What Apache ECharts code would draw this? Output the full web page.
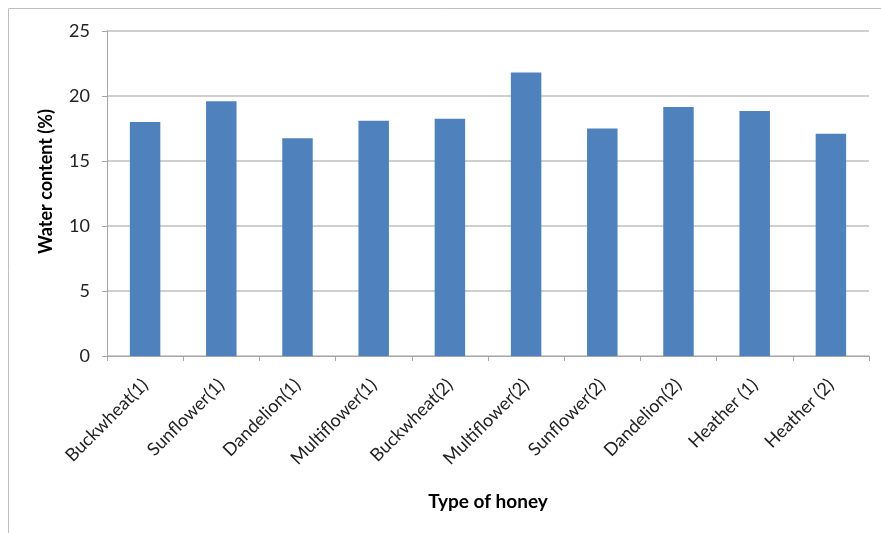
<!DOCTYPE html>
<html>
<head>
<meta charset="utf-8">
<script src="https://cdn.jsdelivr.net/npm/echarts@6/dist/echarts.min.js"></script>
<style>
  html, body { margin: 0; padding: 0; background: #fff; }
  #chart { width: 881px; height: 533px; }
</style>
</head>
<body>
<div id="chart"></div>
<script>
// Honey samples and their measured water content
const categories = [
  'Buckwheat(1)', 'Sunflower(1)', 'Dandelion(1)', 'Multiflower(1)', 'Buckwheat(2)',
  'Multiflower(2)', 'Sunflower(2)', 'Dandelion(2)', 'Heather (1)', 'Heather (2)'
];
const waterContent = [18.0, 19.6, 16.75, 18.1, 18.25, 21.8, 17.5, 19.15, 18.85, 17.1];
const yTicks = { min: 0, max: 25, interval: 5 };

const FONT = 'Lato, "Open Sans", sans-serif';
const chart = echarts.init(document.getElementById('chart'), null, { renderer: 'canvas' });

chart.setOption({
  animation: false,
  backgroundColor: '#ffffff',
  graphic: [{
    type: 'rect',
    shape: { x: 8.5, y: 8.5, width: 880, height: 530 },
    style: { fill: 'none', stroke: '#bfbfbf', lineWidth: 1 }
  }],
  grid: { left: 107, right: 12, top: 31, bottom: 177 },
  xAxis: {
    type: 'category',
    data: categories,
    name: 'Type of honey',
    nameLocation: 'middle',
    nameGap: 136,
    nameTextStyle: { fontFamily: FONT, fontSize: 19, fontWeight: 'bold', color: '#000' },
    axisLine: { lineStyle: { color: '#a6a6a6' } },
    axisTick: { show: true, length: 5, lineStyle: { color: '#a6a6a6' } },
    axisLabel: { rotate: 45, fontFamily: FONT, fontSize: 18, color: '#222', margin: 26, interval: 0 }
  },
  yAxis: {
    type: 'value',
    min: yTicks.min,
    max: yTicks.max,
    interval: yTicks.interval,
    name: 'Water content (%)',
    nameLocation: 'middle',
    nameGap: 52,
    nameTextStyle: { fontFamily: FONT, fontSize: 18, fontWeight: 'bold', color: '#000', padding: [0, 0, 0, 24] },
    axisLine: { show: true, lineStyle: { color: '#a6a6a6' } },
    axisTick: { show: true, length: 5, lineStyle: { color: '#a6a6a6' } },
    axisLabel: { fontFamily: FONT, fontSize: 18, color: '#222', margin: 17 },
    splitLine: { lineStyle: { color: '#bfbfbf', width: 1.5 } }
  },
  series: [{
    type: 'bar',
    data: waterContent,
    barWidth: '40%',
    itemStyle: { color: '#4f81bd' }
  }]
});
</script>
</body>
</html>
